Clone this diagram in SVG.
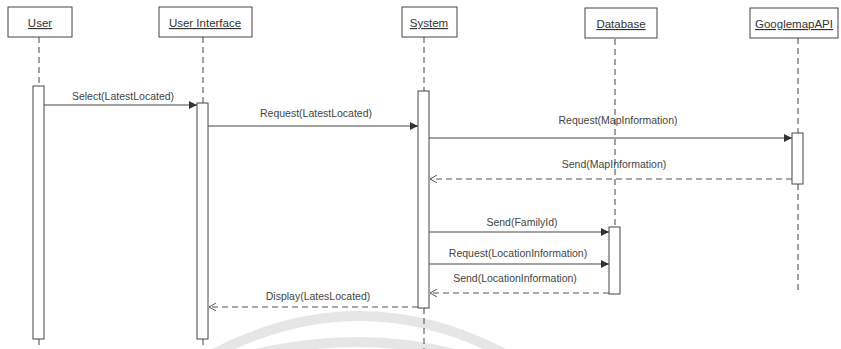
<svg xmlns="http://www.w3.org/2000/svg" width="841" height="349" viewBox="0 0 841 349">
  <style>
    .head { fill: #fff; stroke: #444; stroke-width: 1; }
    .title { font-family: "Liberation Sans", Arial, sans-serif; font-size: 11.5px; fill: #333; text-anchor: middle; text-decoration: underline; }
    .life { stroke: #444; stroke-width: 1; stroke-dasharray: 6 4; fill: none; }
    .act { fill: #fff; stroke: #444; stroke-width: 1; }
    .call { stroke: #444; stroke-width: 1; fill: none; marker-end: url(#solid); }
    .reply { stroke: #555; stroke-width: 1; stroke-dasharray: 6 4; fill: none; marker-end: url(#open); }
    .lbl { font-family: "Liberation Sans", Arial, sans-serif; font-size: 10.5px; fill: #444; text-anchor: middle; }
    .wm { fill: none; stroke: #e6e6e6; stroke-width: 10; }
  </style>
  <defs>
    <marker id="solid" viewBox="0 0 10 10" refX="10" refY="5" markerWidth="8" markerHeight="8" markerUnits="userSpaceOnUse" orient="auto">
      <path d="M0,0 L10,5 L0,10 z" fill="#333"/>
    </marker>
    <marker id="open" viewBox="0 0 10 10" refX="9" refY="5" markerWidth="8" markerHeight="8" markerUnits="userSpaceOnUse" orient="auto">
      <path d="M0,0 L9,5 L0,10" fill="none" stroke="#555" stroke-width="1.2"/>
    </marker>
  </defs>

  <rect width="841" height="349" fill="#fff"/>

  <!-- faint background arcs -->
  <g id="backdrop">
    <path class="wm" d="M213,354 Q360,278 505,354"/>
    <path class="wm" d="M255,354 Q360,330 455,354"/>
  </g>

  <!-- lifelines -->
  <g id="lifelines">
    <path class="life" d="M39,37 V86 M39,339 V349"/>
    <path class="life" d="M203,37 V103 M203,339 V349"/>
    <path class="life" d="M424,37 V91 M424,308 V349"/>
    <path class="life" d="M615,39 V227"/>
    <path class="life" d="M798,38 V133 M798,184 V290"/>
  </g>

  <g id="user">
    <rect class="head" x="8" y="7" width="64" height="30"/>
    <text class="title" x="40" y="27">User</text>
    <rect class="act" x="33" y="86" width="11" height="253"/>
  </g>
  <g id="user-interface">
    <rect class="head" x="159" y="7" width="93" height="30"/>
    <text class="title" x="205" y="27">User Interface</text>
    <rect class="act" x="197" y="103" width="11" height="236"/>
  </g>
  <g id="system">
    <rect class="head" x="402" y="7" width="55" height="30"/>
    <text class="title" x="429" y="27">System</text>
    <rect class="act" x="418" y="91" width="11" height="217"/>
  </g>
  <g id="database">
    <rect class="head" x="585" y="8" width="72" height="30"/>
    <text class="title" x="621" y="28">Database</text>
    <rect class="act" x="609" y="227" width="11" height="67"/>
  </g>
  <g id="googlemap-api">
    <rect class="head" x="750" y="8" width="88" height="30"/>
    <text class="title" x="794" y="28">GooglemapAPI</text>
    <rect class="act" x="792" y="133" width="11" height="51"/>
  </g>

  <!-- messages -->
  <g id="connectors">
    <line class="call" x1="44" y1="105" x2="197" y2="105"/>
    <text class="lbl" x="123" y="100">Select(LatestLocated)</text>

    <line class="call" x1="208" y1="126" x2="418" y2="126"/>
    <text class="lbl" x="316" y="117">Request(LatestLocated)</text>

    <line class="call" x1="429" y1="138" x2="792" y2="138"/>
    <text class="lbl" x="618" y="124">Request(MapInformation)</text>

    <line class="reply" x1="792" y1="179" x2="430" y2="179"/>
    <text class="lbl" x="614" y="168">Send(MapInformation)</text>

    <line class="call" x1="429" y1="232" x2="609" y2="232"/>
    <text class="lbl" x="522" y="226">Send(FamilyId)</text>

    <line class="call" x1="429" y1="264" x2="609" y2="264"/>
    <text class="lbl" x="518" y="257">Request(LocationInformation)</text>

    <line class="reply" x1="609" y1="293" x2="430" y2="293"/>
    <text class="lbl" x="515" y="282">Send(LocationInformation)</text>

    <line class="reply" x1="418" y1="307" x2="209" y2="307"/>
    <text class="lbl" x="318" y="300">Display(LatesLocated)</text>
  </g>
</svg>
